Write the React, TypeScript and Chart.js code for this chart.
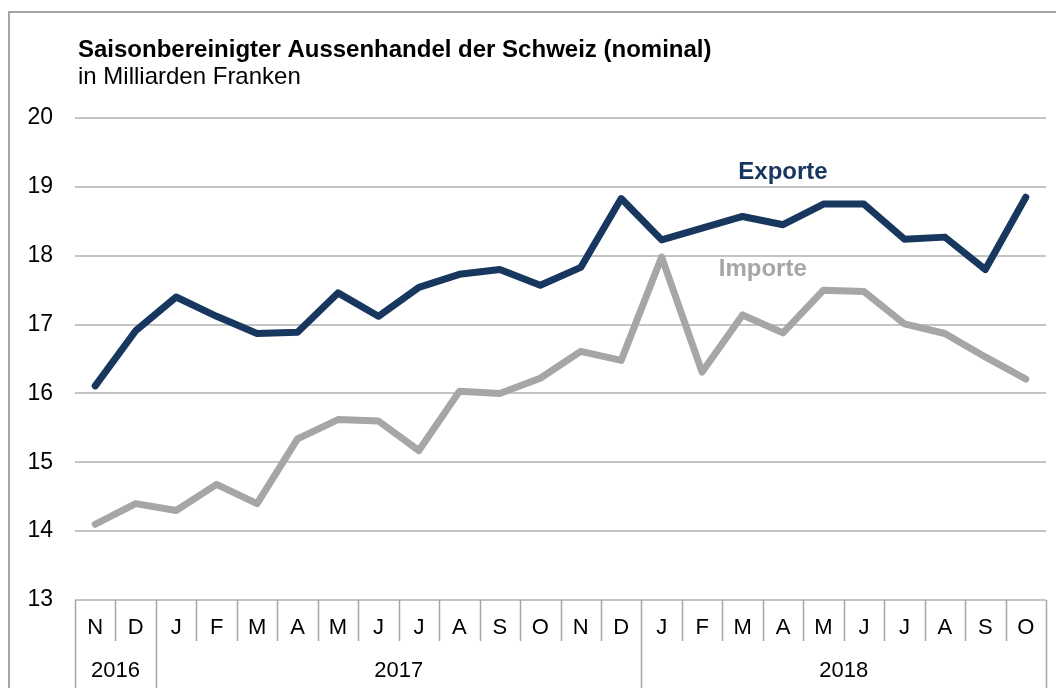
import React, { useEffect, useRef } from "react";
import { Chart, registerables } from "chart.js";

Chart.register(...registerables);

const months = ["N", "D", "J", "F", "M", "A", "M", "J", "J", "A", "S", "O", "N", "D", "J", "F", "M", "A", "M", "J", "J", "A", "S", "O"];
const yearLabels = ["2016", "2017", "2018"];
const yearSpans = [2, 12, 10];
const exporte = [16.11, 16.91, 17.4, 17.12, 16.87, 16.89, 17.46, 17.12, 17.54, 17.73, 17.8, 17.57, 17.83, 18.83, 18.23, 18.4, 18.57, 18.45, 18.75, 18.75, 18.24, 18.27, 17.8, 18.85];
const importe = [14.1, 14.4, 14.3, 14.68, 14.4, 15.34, 15.62, 15.6, 15.17, 16.03, 16.0, 16.22, 16.61, 16.48, 17.98, 16.31, 17.14, 16.88, 17.5, 17.48, 17.01, 16.87, 16.53, 16.21];
const yMin = 13;
const yMax = 20;
const title = "Saisonbereinigter Aussenhandel der Schweiz (nominal)";
const subtitle = "in Milliarden Franken";
const exportLabel = { text: "Exporte", index: 17, value: 19.21 };
const importLabel = { text: "Importe", index: 16.5, value: 17.8 };

const NAVY = "#17375e";
const GREY = "#a6a6a6";
const FONT = "'Liberation Sans', Arial, sans-serif";

const decorPlugin = {
  id: "decor",
  afterDraw(chart: any) {
    const ctx = chart.ctx;
    const x = chart.scales.x;
    const y = chart.scales.y;
    const area = chart.chartArea;
    ctx.save();
    // frame
    ctx.strokeStyle = "#a6a6a6";
    ctx.lineWidth = 2;
    ctx.beginPath();
    ctx.moveTo(9, 688);
    ctx.lineTo(9, 12);
    ctx.lineTo(1056, 12);
    ctx.stroke();
    // title
    ctx.fillStyle = "#000";
    ctx.textAlign = "left";
    ctx.textBaseline = "alphabetic";
    ctx.font = `bold 24px ${FONT}`;
    ctx.fillText(title, 78, 57);
    ctx.font = `24px ${FONT}`;
    ctx.fillText(subtitle, 78, 84);
    // series labels
    ctx.textAlign = "center";
    ctx.textBaseline = "middle";
    ctx.font = `bold 24px ${FONT}`;
    ctx.fillStyle = NAVY;
    ctx.fillText(exportLabel.text, x.getPixelForValue(exportLabel.index), y.getPixelForValue(exportLabel.value));
    ctx.fillStyle = GREY;
    ctx.fillText(importLabel.text, x.getPixelForValue(importLabel.index), y.getPixelForValue(importLabel.value));
    // category axis
    const n = months.length;
    const half = (x.getPixelForValue(1) - x.getPixelForValue(0)) / 2;
    const rowH = 41;
    ctx.strokeStyle = "#a6a6a6";
    ctx.lineWidth = 1.5;
    const boundaries = new Set<number>();
    let acc = 0;
    boundaries.add(0);
    yearSpans.forEach((s) => {
      acc += s;
      boundaries.add(acc);
    });
    for (let i = 0; i <= n; i++) {
      const px = Math.round(x.getPixelForValue(i) - half) + 0.5;
      ctx.beginPath();
      ctx.moveTo(px, area.bottom);
      ctx.lineTo(px, boundaries.has(i) ? 688 : area.bottom + rowH);
      ctx.stroke();
    }
    ctx.fillStyle = "#000";
    ctx.font = `22px ${FONT}`;
    months.forEach((m, i) => {
      ctx.fillText(m, x.getPixelForValue(i), area.bottom + 28);
    });
    let start = 0;
    yearLabels.forEach((lab, k) => {
      const end = start + yearSpans[k];
      const cx = (x.getPixelForValue(start) + x.getPixelForValue(end - 1)) / 2;
      ctx.fillText(lab, cx, area.bottom + 71);
      start = end;
    });
    ctx.restore();
  },
};

export default function App() {
  const ref = useRef<HTMLCanvasElement | null>(null);
  useEffect(() => {
    if (!ref.current) return;
    const chart = new Chart(ref.current, {
      type: "line",
      data: {
        labels: months,
        datasets: [
          {
            label: "Exporte",
            data: exporte,
            borderColor: NAVY,
            borderWidth: 7,
            pointRadius: 0,
            borderJoinStyle: "round",
            borderCapStyle: "round",
            tension: 0,
          },
          {
            label: "Importe",
            data: importe,
            borderColor: GREY,
            borderWidth: 7,
            pointRadius: 0,
            borderJoinStyle: "round",
            borderCapStyle: "round",
            tension: 0,
          },
        ],
      },
      options: {
        responsive: false,
        animation: false,
        devicePixelRatio: 1,
        layout: { padding: { left: 10, right: 10, top: 118, bottom: 88 } },
        plugins: { legend: { display: false }, tooltip: { enabled: false } },
        scales: {
          x: { type: "category", offset: true, display: false },
          y: {
            min: yMin,
            max: yMax,
            afterFit: (s: any) => {
              s.width = 65;
            },
            ticks: {
              stepSize: 1,
              padding: 22,
              color: "#000",
              font: { family: FONT, size: 23 },
            },
            grid: { color: "#c4c4c4", lineWidth: 2, drawTicks: false },
            border: { display: false },
          },
        },
      },
      plugins: [decorPlugin],
    });
    return () => chart.destroy();
  }, []);
  return (
    <div style={{ position: "absolute", left: 0, top: 0, width: 1056, height: 688, background: "#fff" }}>
      <canvas ref={ref} width={1056} height={688} style={{ display: "block" }} />
    </div>
  );
}
